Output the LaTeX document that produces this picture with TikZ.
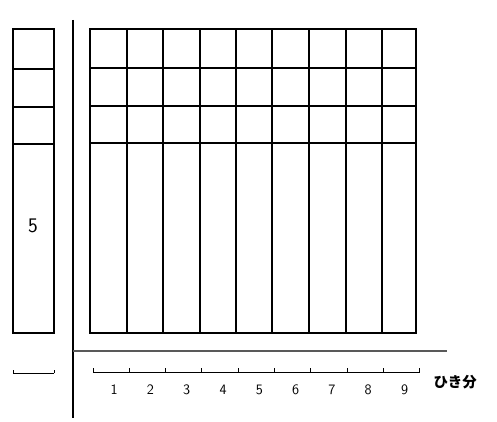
\documentclass[tikz,border=0pt]{standalone}
\usepackage{fontspec}
\newfontfamily\jpfont{Noto Sans CJK JP}
\begin{document}
\begin{tikzpicture}[
  x=1pt, y=-1pt,
  grid/.style={line width=1.7pt},
  axis/.style={line width=1.1pt},
  tick/.style={line width=1pt},
  num/.style={font=\Large\sffamily, inner sep=1pt}
]
  \useasboundingbox (0,0) rectangle (497,422);
  % left bar
  \draw[grid] (13,29) rectangle (54,333);
  \foreach \y in {69,107,144}
    \draw[grid] (13,\y) -- (54,\y);
  \node[font=\huge\sffamily] (five) at (33,226) {5};
  % main grid
  \draw[grid] (90,29) rectangle (416,333);
  \foreach \x in {127,163,200,236,272,309,346,382}
    \draw[grid] (\x,29) -- (\x,333);
  \foreach \y in {68,106,143}
    \draw[grid] (90,\y) -- (416,\y);
  % axes
  \draw[axis] (73,20) -- (73,418);
  \draw[axis, line width=1.8pt, black!65] (73,351) -- (447,351);
  % small ruler
  \draw[tick] (13,373) -- (54,373);
  \foreach \x in {13,54}
    \draw[tick] (\x,373) -- (\x,370);
  % main ruler
  \draw[tick] (93,372) -- (420,372);
  \foreach \i in {0,...,9}
    \draw[tick] ({93+\i*36.3},372) -- ({93+\i*36.3},368);
  \foreach \i in {1,...,9}
    \node[num] (n\i) at ({93+(\i-0.5)*36.3+3},390) {\i};
  \node[font=\jpfont\Large\bfseries, anchor=west] (unit) at (430,382) {ひき分};
\end{tikzpicture}
\end{document}
